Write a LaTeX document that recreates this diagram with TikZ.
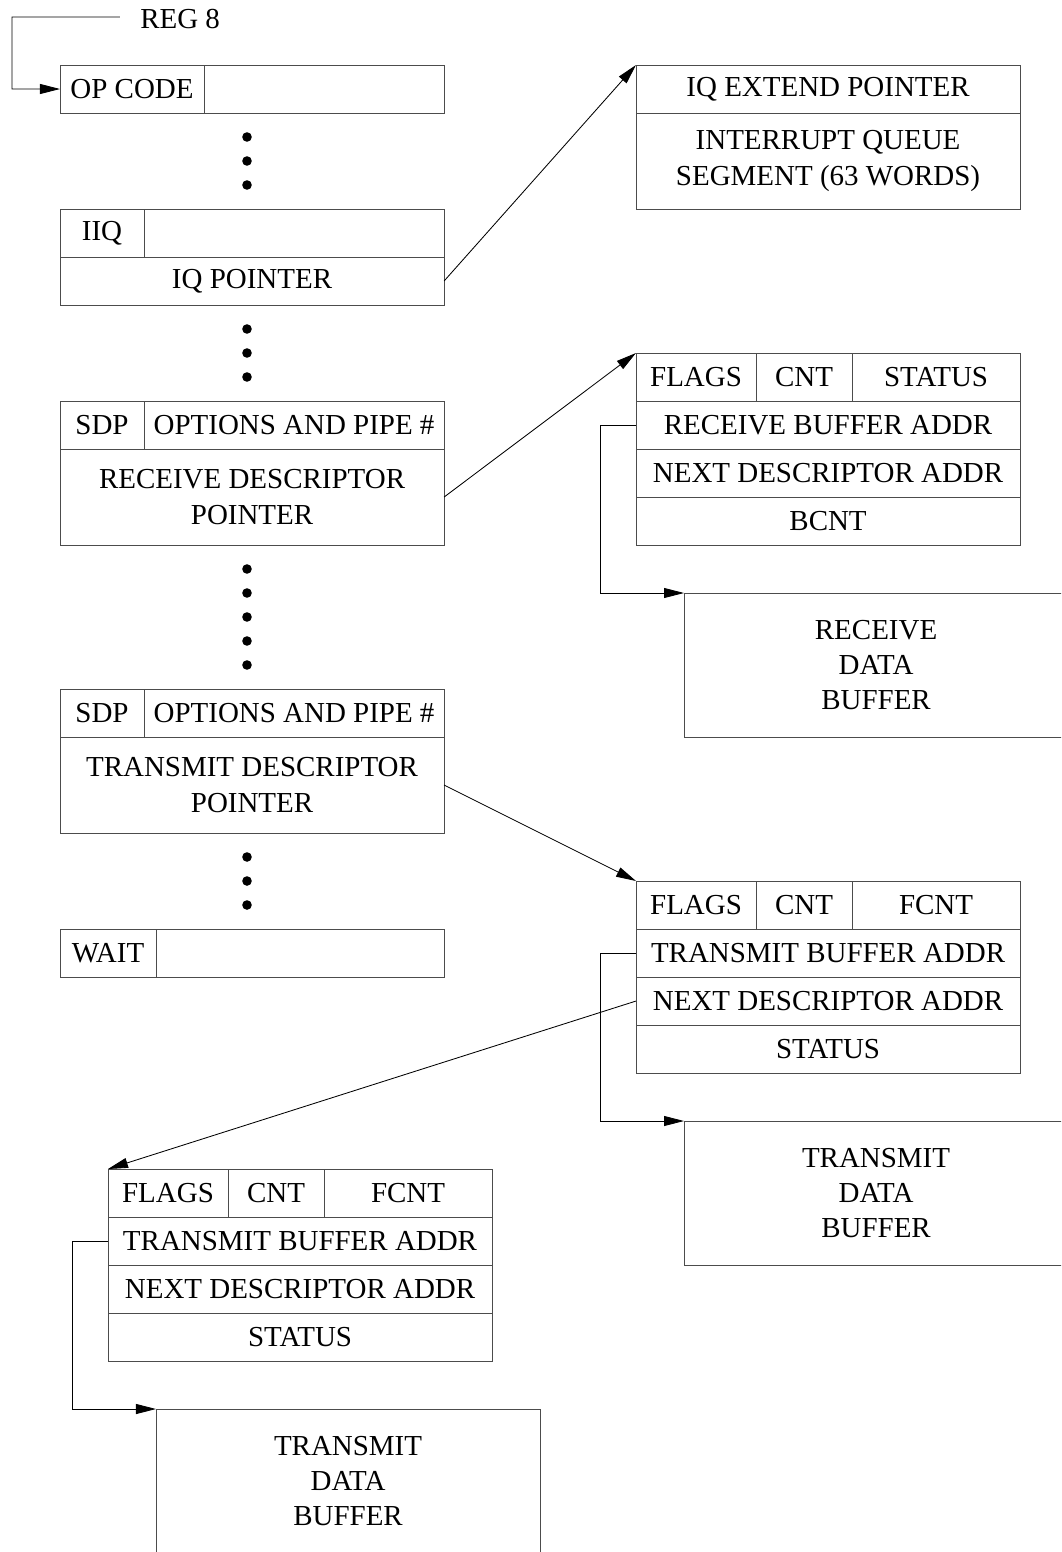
\documentclass[tikz,border=0pt]{standalone}
\usepackage{fontspec}
\setmainfont{Liberation Serif}
\usepackage{tikz}
\usetikzlibrary{arrows.meta,positioning}
\tikzset{
  cell/.style={draw=black!70,line width=0.7pt,inner sep=0pt,outer sep=0pt,minimum height=1.2cm,anchor=north west,align=center,font=\fontsize{20.6}{25}\selectfont},
  ptr/.style={-{Triangle[length=0.5cm,width=0.25cm]},line width=0.6pt},
  link/.style={line width=0.6pt}
}
\begin{document}
\begin{tikzpicture}[x=0.025cm,y=-0.025cm]
       \useasboundingbox(0,0)rectangle(1061,1552);
       \clip(0,0)rectangle(1061,1552);
       \node[cell,minimum width=3.6cm](opcode)at(60,65){OP CODE};
       \node[cell,minimum width=6cm](opfree)at(opcode.north east){};
       \node[cell,minimum width=2.1cm](iiq)at(60,209){IIQ};
       \node[cell,minimum width=7.5cm](iiqfree)at(iiq.north east){};
       \node[cell,minimum width=9.6cm](iqptr)at(iiq.south west){IQ POINTER};
       \node[cell,minimum width=2.1cm](rsdp)at(60,401){SDP};
       \node[cell,minimum width=7.5cm](ropt)at(rsdp.north east){OPTIONS AND PIPE \#};
       \node[cell,minimum width=9.6cm,minimum height=2.4cm](rdptr)at(rsdp.south west){RECEIVE DESCRIPTOR\\POINTER};
       \node[cell,minimum width=2.1cm](tsdp)at(60,689){SDP};
       \node[cell,minimum width=7.5cm](topt)at(tsdp.north east){OPTIONS AND PIPE \#};
       \node[cell,minimum width=9.6cm,minimum height=2.4cm](tdptr)at(tsdp.south west){TRANSMIT DESCRIPTOR\\POINTER};
       \node[cell,minimum width=2.4cm](wait)at(60,929){WAIT};
       \node[cell,minimum width=7.2cm](waitfree)at(wait.north east){};
       \node[cell,minimum width=9.6cm](iqext)at(636,65){IQ EXTEND POINTER};
       \node[cell,minimum width=9.6cm,minimum height=2.4cm](iqseg)at(iqext.south west){INTERRUPT QUEUE\\SEGMENT (63 WORDS)};
       \node[cell,minimum width=3cm](rflags)at(636,353){FLAGS};
       \node[cell,minimum width=2.4cm](rcnt)at(rflags.north east){CNT};
       \node[cell,minimum width=4.2cm](rstat)at(rcnt.north east){STATUS};
       \node[cell,minimum width=9.6cm](rbuf)at(rflags.south west){RECEIVE BUFFER ADDR};
       \node[cell,minimum width=9.6cm](rnext)at(rbuf.south west){NEXT DESCRIPTOR ADDR};
       \node[cell,minimum width=9.6cm](rbcnt)at(rnext.south west){BCNT};
       \node[cell,minimum width=9.6cm,minimum height=3.6cm](rxdata)at(684,593){RECEIVE\\DATA\\BUFFER};
       \node[cell,minimum width=3cm](aflags)at(636,881){FLAGS};
       \node[cell,minimum width=2.4cm](acnt)at(aflags.north east){CNT};
       \node[cell,minimum width=4.2cm](afcnt)at(acnt.north east){FCNT};
       \node[cell,minimum width=9.6cm](abuf)at(aflags.south west){TRANSMIT BUFFER ADDR};
       \node[cell,minimum width=9.6cm](anext)at(abuf.south west){NEXT DESCRIPTOR ADDR};
       \node[cell,minimum width=9.6cm](astat)at(anext.south west){STATUS};
       \node[cell,minimum width=9.6cm,minimum height=3.6cm](txdataa)at(684,1121){TRANSMIT\\DATA\\BUFFER};
       \node[cell,minimum width=3cm](bflags)at(108,1169){FLAGS};
       \node[cell,minimum width=2.4cm](bcnt)at(bflags.north east){CNT};
       \node[cell,minimum width=4.2cm](bfcnt)at(bcnt.north east){FCNT};
       \node[cell,minimum width=9.6cm](bbuf)at(bflags.south west){TRANSMIT BUFFER ADDR};
       \node[cell,minimum width=9.6cm](bnext)at(bbuf.south west){NEXT DESCRIPTOR ADDR};
       \node[cell,minimum width=9.6cm](bstat)at(bnext.south west){STATUS};
       \node[cell,minimum width=9.6cm,minimum height=3.6cm](txdatab)at(156,1409){TRANSMIT\\DATA\\BUFFER};
       \node[anchor=west,inner sep=0pt,font=\fontsize{20.6}{25}\selectfont](reg)at(140,19){REG 8};
       \coordinate(regcorner)at(12,17);
       \draw[ptr]([xshift=-0.5cm,yshift=0.05cm]reg.west)--(regcorner)|-(opcode.west);
       \foreach \y in {137,161,185,329,353,377,569,593,617,641,665,857,881,905}
         \fill(247,\y)circle[radius=0.12cm];
       \draw[ptr](iqptr.east)--(iqext.north west);
       \draw[ptr](rdptr.east)--(rflags.north west);
       \draw[ptr](tdptr.east)--(aflags.north west);
       \draw[ptr](anext.west)--(bflags.north west);
       \draw[ptr](rbuf.west)--++(-0.9cm,0)|-(rxdata.north west);
       \draw[ptr](abuf.west)--++(-0.9cm,0)|-(txdataa.north west);
       \draw[ptr](bbuf.west)--++(-0.9cm,0)|-(txdatab.north west);
      \end{tikzpicture}
\end{document}
